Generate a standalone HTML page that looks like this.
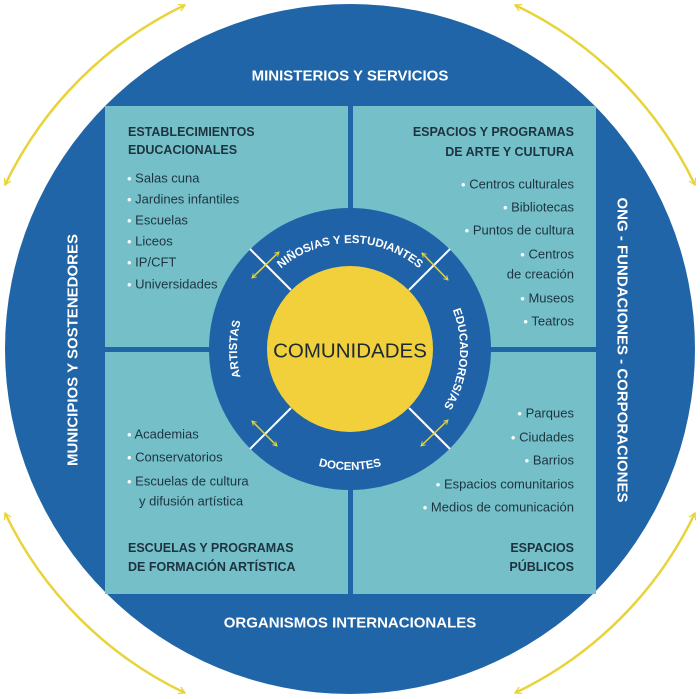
<!DOCTYPE html>
<html><head><meta charset="utf-8"><style>
html,body{margin:0;padding:0;background:#fff;}
svg{display:block;}
text{font-family:"Liberation Sans","DejaVu Sans",sans-serif;}
.t{fill:#1d3440;font-size:12.5px;font-weight:bold;}
.i{fill:#1d3440;font-size:13px;}
.w{fill:#fff;font-weight:bold;}
.b{fill:#fff;}
</style></head><body>
<svg width="700" height="699" viewBox="0 0 700 699" xmlns="http://www.w3.org/2000/svg">
<defs>
<marker id="ah" viewBox="0 0 10 10" refX="8" refY="5" markerWidth="6" markerHeight="6" orient="auto-start-reverse" markerUnits="userSpaceOnUse">
<path d="M1 1 L8 5 L1 9" fill="none" stroke="#e8d43a" stroke-width="1.5"/></marker>
<marker id="ah2" viewBox="0 0 10 10" refX="8" refY="5" markerWidth="9" markerHeight="9" orient="auto-start-reverse" markerUnits="userSpaceOnUse">
<path d="M1 1 L8 5 L1 9" fill="none" stroke="#e8d43a" stroke-width="1.4"/></marker>
<path id="pTop" d="M244 349 A106 106 0 0 1 456 349"/>
<path id="pBot" d="M229 349 A121 121 0 0 0 471 349"/>
<path id="pL" d="M350 462 A113 113 0 0 1 350 236"/>
<path id="pR" d="M350 239 A110 110 0 0 1 350 459"/>
</defs>
<g fill="none" stroke="#e8d43a" stroke-width="2.5" marker-start="url(#ah2)" marker-end="url(#ah2)">
<path d="M5 185 A382 382 0 0 1 185 5"/>
<path d="M515 5 A382 382 0 0 1 695 185"/>
<path d="M695 513 A382 382 0 0 1 515 693"/>
<path d="M185 693 A382 382 0 0 1 5 513"/>
</g>
<circle cx="350" cy="349" r="345" fill="#1f65a7"/>
<rect x="105" y="106" width="491" height="488" fill="#74bfc8"/>
<rect x="348" y="106" width="5" height="488" fill="#1f65a7"/>
<rect x="105" y="347" width="491" height="5" fill="#1f65a7"/>
<circle cx="350" cy="349" r="141" fill="#1f62a8"/>
<circle cx="350" cy="349" r="83" fill="#f2d03c"/>
<g stroke="#fff" stroke-width="2">
<line x1="291" y1="290" x2="250" y2="249"/>
<line x1="409" y1="290" x2="450" y2="249"/>
<line x1="291" y1="408" x2="250" y2="449"/>
<line x1="409" y1="408" x2="450" y2="449"/>
</g>
<g fill="none" stroke="#e8d43a" stroke-width="1.5" marker-start="url(#ah)" marker-end="url(#ah)">
<line x1="252" y1="278" x2="279" y2="252"/>
<line x1="422" y1="253" x2="448" y2="280"/>
<line x1="252" y1="421" x2="277" y2="446"/>
<line x1="421" y1="446" x2="448" y2="420"/>
</g>
<text x="350" y="351" text-anchor="middle" dominant-baseline="central" font-size="20.5" fill="#1d2a33" style="font-weight:500">COMUNIDADES</text>
<g class="w" font-size="11.5">
<text><textPath href="#pTop" startOffset="50%" text-anchor="middle">NIÑOS/AS Y ESTUDIANTES</textPath></text>
<text><textPath href="#pBot" startOffset="50%" text-anchor="middle">DOCENTES</textPath></text>
<text><textPath href="#pL" startOffset="50%" text-anchor="middle">ARTISTAS</textPath></text>
<text><textPath href="#pR" startOffset="53%" text-anchor="middle">EDUCADORES/AS</textPath></text>
</g>
<g class="w" font-size="15" text-anchor="middle" dominant-baseline="central">
<text x="350" y="76">MINISTERIOS Y SERVICIOS</text>
<text x="350" y="623">ORGANISMOS INTERNACIONALES</text>
<text transform="translate(73,350) rotate(-90)">MUNICIPIOS Y SOSTENEDORES</text>
<text transform="translate(622,350) rotate(90)">ONG - FUNDACIONES - CORPORACIONES</text>
</g>
<g dominant-baseline="central">
<text class="t" x="128" y="132">ESTABLECIMIENTOS</text>
<text class="t" x="128" y="150">EDUCACIONALES</text>
<g class="i">
<text x="127" y="178"><tspan class="b">• </tspan>Salas cuna</text>
<text x="127" y="199"><tspan class="b">• </tspan>Jardines infantiles</text>
<text x="127" y="220"><tspan class="b">• </tspan>Escuelas</text>
<text x="127" y="241"><tspan class="b">• </tspan>Liceos</text>
<text x="127" y="262"><tspan class="b">• </tspan>IP/CFT</text>
<text x="127" y="284"><tspan class="b">• </tspan>Universidades</text>
</g>
<g text-anchor="end">
<text class="t" x="574" y="132">ESPACIOS Y PROGRAMAS</text>
<text class="t" x="574" y="152">DE ARTE Y CULTURA</text>
<g class="i">
<text x="574" y="184"><tspan class="b">• </tspan>Centros culturales</text>
<text x="574" y="207"><tspan class="b">• </tspan>Bibliotecas</text>
<text x="574" y="230"><tspan class="b">• </tspan>Puntos de cultura</text>
<text x="574" y="254"><tspan class="b">• </tspan>Centros</text>
<text x="574" y="274">de creación</text>
<text x="574" y="298"><tspan class="b">• </tspan>Museos</text>
<text x="574" y="321"><tspan class="b">• </tspan>Teatros</text>
</g>
</g>
<g class="i">
<text x="127" y="434"><tspan class="b">• </tspan>Academias</text>
<text x="127" y="457"><tspan class="b">• </tspan>Conservatorios</text>
<text x="127" y="481"><tspan class="b">• </tspan>Escuelas de cultura</text>
<text x="139" y="501">y difusión artística</text>
</g>
<text class="t" x="128" y="548">ESCUELAS Y PROGRAMAS</text>
<text class="t" x="128" y="567">DE FORMACIÓN ARTÍSTICA</text>
<g text-anchor="end">
<g class="i">
<text x="574" y="413"><tspan class="b">• </tspan>Parques</text>
<text x="574" y="437"><tspan class="b">• </tspan>Ciudades</text>
<text x="574" y="460"><tspan class="b">• </tspan>Barrios</text>
<text x="574" y="484"><tspan class="b">• </tspan>Espacios comunitarios</text>
<text x="574" y="507"><tspan class="b">• </tspan>Medios de comunicación</text>
</g>
<text class="t" x="574" y="548">ESPACIOS</text>
<text class="t" x="574" y="567">PÚBLICOS</text>
</g>
</g>
</svg>
</body></html>
